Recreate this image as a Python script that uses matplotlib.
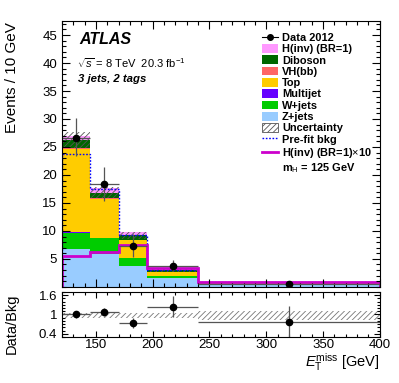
import numpy as np
import matplotlib
matplotlib.use('Agg')
import matplotlib.pyplot as plt
from matplotlib.patches import Patch
from matplotlib.lines import Line2D
from matplotlib.ticker import MultipleLocator, FixedLocator, FuncFormatter

plt.rcParams['font.family'] = ['Liberation Sans', 'DejaVu Sans']
plt.rcParams['mathtext.fontset'] = 'custom'
plt.rcParams['mathtext.rm'] = 'Liberation Sans'
plt.rcParams['mathtext.it'] = 'Liberation Sans:italic'
plt.rcParams['mathtext.bf'] = 'Liberation Sans:bold'
plt.rcParams['hatch.linewidth'] = 0.6

# ----------- Data -----------
edges = [120, 145, 170, 195, 240, 400]
z_jets = [6.7, 5.8, 3.8, 1.6, 0.45]
w_jets = [3.0, 2.9, 1.3, 0.4, 0.1]
multijet = [0.1, 0.1, 0.05, 0.02, 0.01]
top = [14.9, 6.9, 3.15, 0.6, 0.12]
vh_bb = [0.2, 0.15, 0.1, 0.05, 0.02]
diboson = [1.4, 1.0, 0.8, 0.35, 0.08]
h_inv = [0.6, 0.8, 0.6, 0.25, 0.07]
bkg_unc = [1.4, 1.0, 0.6, 0.3, 0.08]
prefit_bkg = [23.8, 17.5, 9.2, 3.1, 0.8]
signal_x10 = [5.6, 6.2, 7.4, 3.3, 0.95]

data = [26.6, 18.3, 7.3, 3.75, 0.6]
data_err_up = [3.5, 3.1, 2.2, 1.1, 0.5]
data_err_down = [3.3, 3.0, 2.0, 1.0, 0.4]

ratio = [1.0, 1.07, 0.74, 1.22, 0.76]
ratio_err_up = [0.11, 0.12, 0.16, 0.34, 0.5]
ratio_err_down = [0.10, 0.11, 0.15, 0.30, 0.5]
ratio_band_center = [0.975, 0.975, 0.975, 0.975, 0.98]
ratio_band_half = [0.075, 0.075, 0.075, 0.075, 0.14]

# ----------- Styles -----------
components = [
    ('Z+jets', z_jets, '#99ccff'),
    ('W+jets', w_jets, '#00cc00'),
    ('Multijet', multijet, '#6600ff'),
    ('Top', top, '#ffcc00'),
    ('VH(bb)', vh_bb, '#ff6666'),
    ('Diboson', diboson, '#006600'),
    ('H(inv) (BR=1)', h_inv, '#ff99ff'),
]

edges = np.array(edges)
centers = 0.5 * (edges[1:] + edges[:-1])
half_widths = 0.5 * np.diff(edges)

fig = plt.figure(figsize=(3.99, 3.83), dpi=100)
ax = fig.add_axes([0.155, 0.251, 0.797, 0.694])
rax = fig.add_axes([0.155, 0.120, 0.797, 0.118])

# stacked histogram
bottom = np.zeros(len(centers))
for name, vals, col in components:
    vals = np.array(vals)
    ax.stairs(bottom + vals, edges, baseline=bottom, fill=True, color=col, lw=0)
    bottom = bottom + vals
total = bottom

# uncertainty band around total background
unc = np.array(bkg_unc)
ax.stairs(total - np.array(h_inv) + unc, edges, baseline=total - np.array(h_inv) - unc,
          fill=True, facecolor='none', edgecolor='#555555', hatch='//////', lw=0)

ax.stairs(prefit_bkg, edges, color='#0000ff', lw=1.0, linestyle=(0, (1.2, 1.2)))
ax.stairs(signal_x10, edges, color='#cc00cc', lw=2.0)

ax.errorbar(centers, data, xerr=half_widths, yerr=[data_err_down, data_err_up],
            fmt='o', color='black', ecolor='#555555', ms=4.5, elinewidth=0.9, capsize=0)

ax.set_xlim(120, 400)
ax.set_ylim(0, 47.5)
ax.yaxis.set_major_locator(FixedLocator([5, 10, 15, 20, 25, 30, 35, 40, 45]))
ax.yaxis.set_minor_locator(MultipleLocator(1))
ax.xaxis.set_major_locator(MultipleLocator(50))
ax.xaxis.set_minor_locator(MultipleLocator(10))
ax.tick_params(labelbottom=False)

# ratio panel
rax.stairs(np.array(ratio_band_center) + np.array(ratio_band_half), edges,
           baseline=np.array(ratio_band_center) - np.array(ratio_band_half),
           fill=True, facecolor='none', edgecolor='#777777', hatch='//////', lw=0)
rax.errorbar(centers, ratio, xerr=half_widths, yerr=[ratio_err_down, ratio_err_up],
             fmt='o', color='black', ecolor='#555555', ms=4.5, elinewidth=0.9, capsize=0)
rax.set_xlim(120, 400)
rax.set_ylim(0.3, 1.7)
rax.yaxis.set_major_locator(FixedLocator([0.4, 1.0, 1.6]))
rax.yaxis.set_major_formatter(FuncFormatter(lambda v, p: '%g' % v))
rax.yaxis.set_minor_locator(MultipleLocator(0.1))
rax.xaxis.set_major_locator(MultipleLocator(50))
rax.xaxis.set_minor_locator(MultipleLocator(10))

for a in (ax, rax):
    a.tick_params(which='both', direction='in', top=True, right=True, labelsize=9.5)
    a.tick_params(which='major', length=6, width=0.8)
    a.tick_params(which='minor', length=3, width=0.8)
    for sp in a.spines.values():
        sp.set_linewidth(0.8)
rax.tick_params(which='major', length=4)
rax.tick_params(which='minor', length=2)
rax.tick_params(axis='x', pad=1.5)

# labels
fig.text(12 / 399, 1 - 22 / 383, 'Events / 10 GeV', rotation=90, ha='center', va='top', fontsize=11)
fig.text(12 / 399, 1 - 294 / 383, 'Data/Bkg', rotation=90, ha='center', va='top', fontsize=10.5)
fig.text(380 / 399, 1 - 367 / 383, r'$E_{\mathrm{T}}^{\mathrm{miss}}$ [GeV]', ha='right', va='baseline', fontsize=10.5)

ax.text(0.055, 0.929, 'ATLAS', transform=ax.transAxes, fontsize=11.5, fontweight='bold',
        style='italic', va='center')
ax.text(0.047, 0.842, r'$\sqrt{s}$ = 8 TeV  20.3 fb$^{-1}$', transform=ax.transAxes, fontsize=8, va='center')
ax.text(0.050, 0.782, '3 jets, 2 tags', transform=ax.transAxes, fontsize=8.2, fontweight='bold',
        style='italic', va='center')

# legend
handles = [Line2D([], [], color='black', marker='o', ms=4, lw=0.8)]
labels = ['Data 2012']
for name, vals, col in components[::-1]:
    handles.append(Patch(facecolor=col, edgecolor='none'))
    labels.append(name)
handles.append(Patch(facecolor='white', edgecolor='#555555', hatch='//////', lw=0.6))
labels.append('Uncertainty')
handles.append(Line2D([], [], color='#0000ff', lw=1.0, linestyle=(0, (1.2, 1.2))))
labels.append('Pre-fit bkg')
handles.append(Line2D([], [], color='#cc00cc', lw=2.0))
labels.append(r'H(inv) (BR=1)$\times$10')
handles.append(Line2D([], [], color='none'))
labels.append(r'm$_{\mathrm{H}}$ = 125 GeV')

ax.legend(handles, labels, loc='upper left', bbox_to_anchor=(0.615, 0.972), frameon=False,
          labelspacing=0.1, handlelength=1.5, handleheight=0.85, handletextpad=0.35,
          borderaxespad=0, prop={'weight': 'bold', 'size': 7.9})

fig.savefig('out.png', dpi=100)
